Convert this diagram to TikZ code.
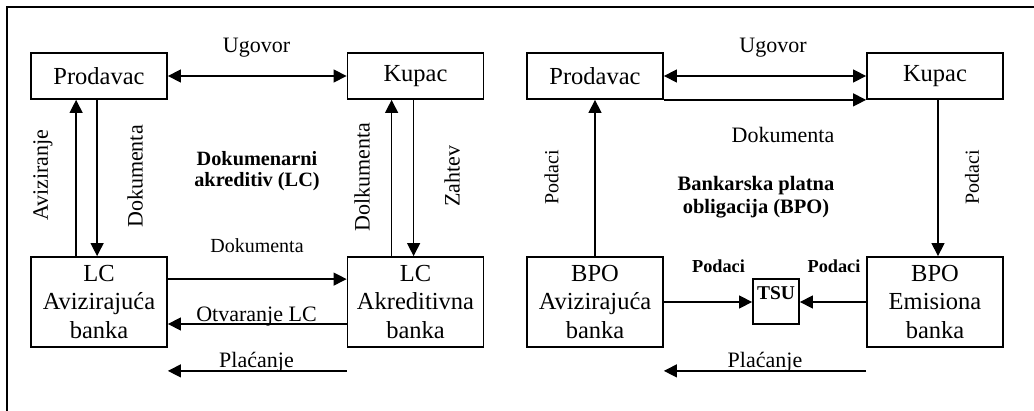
\documentclass[tikz,border=0pt]{standalone}
\usepackage{fontspec}
\setmainfont{Liberation Serif}
\usetikzlibrary{arrows.meta,calc}
\begin{document}
\begin{tikzpicture}[x=1pt,y=-1pt,
  box/.style={draw,line width=1.8pt,inner sep=0pt,align=center,
    font=\fontsize{24.5}{28.5}\selectfont},
  smallbox/.style={box,minimum width=136pt,minimum height=46pt},
  bankbox/.style={box,minimum width=136pt,minimum height=90pt},
  tsubox/.style={draw,line width=1.8pt,inner sep=0pt,minimum width=46pt,minimum height=45pt,
    text height=13.5pt,text depth=18pt,font=\fontsize{19.5}{22}\selectfont\bfseries},
  tip/.tip={Triangle[length=13pt,width=13pt]},
  arr/.style={line width=1.3pt,-tip},
  darr/.style={line width=1.3pt,tip-tip},
  lbl/.style={inner sep=0pt,font=\fontsize{22}{26}\selectfont},
  mlbl/.style={inner sep=0pt,font=\fontsize{20}{24}\selectfont},
  vlbl/.style={inner sep=0pt,rotate=90,font=\fontsize{22}{26}\selectfont},
  vlbls/.style={inner sep=0pt,rotate=90,font=\fontsize{20}{24}\selectfont},
  ttl/.style={inner sep=0pt,align=center,font=\fontsize{20.3}{21.5}\selectfont\bfseries},
  blbl/.style={inner sep=0pt,font=\fontsize{18.3}{22}\selectfont\bfseries}
]
\useasboundingbox (0,0) rectangle (1034,411);
\begin{scope}
\clip (0,0) rectangle (1034,411);
\draw[line width=1.7pt] (7,430) -- (7,7) -- (1050,7);
\end{scope}

% ---------- left diagram: LC ----------
\node[smallbox] (prodA) at (99,76) {Prodavac};
\node[smallbox] (kupA) at (415.5,76) {Kupac};
\node[bankbox] (lcA) at (99,302) {LC\\Avizirajuća\\banka};
\node[bankbox] (lcK) at (415.5,302) {LC\\Akreditivna\\banka};

\draw[darr] (prodA.east) -- (kupA.west);
\draw[arr] ([xshift=46pt]lcA.north west) -- ([xshift=46pt]prodA.south west);
\draw[arr] ([xshift=67pt]prodA.south west) -- ([xshift=67pt]lcA.north west);
\draw[arr] ([xshift=45pt]lcK.north west) -- ([xshift=45pt]kupA.south west);
\draw[arr] ([xshift=67pt]kupA.south west) -- ([xshift=67pt]lcK.north west);
\draw[arr] ([yshift=-23pt]lcA.north east) -- ([yshift=-23pt]lcK.north west);
\draw[arr] ([yshift=-22pt]lcK.west) -- ([yshift=-22pt]lcA.east);
\draw[arr] ([yshift=-23pt]lcK.south west) -- ([yshift=-23pt]lcA.south east);

\node[lbl,anchor=base] (ugA) at (256.5,53) {Ugovor};
\node[mlbl,anchor=base] (dokA) at (257,253) {Dokumenta};
\node[lbl,anchor=base] (otvA) at (256.5,322) {Otvaranje LC};
\node[lbl,anchor=base] (plA) at (256.5,368) {Plaćanje};
\node[vlbl] (avA) at (43,175) {Aviziranje};
\node[vlbl] (dkA) at (135,176.5) {Dokumenta};
\node[vlbl] (dlA) at (362,177) {Dolkumenta};
\node[vlbl] (zaA) at (452,176) {Zahtev};
\node[ttl] (ttlA) at (257,171) {Dokumenarni\\akreditiv (LC)};

% ---------- right diagram: BPO ----------
\node[smallbox] (prodB) at (595,76) {Prodavac};
\node[smallbox] (kupB) at (935,76) {Kupac};
\node[bankbox] (bpoA) at (595,302) {BPO\\Avizirajuća\\banka};
\node[bankbox] (bpoE) at (935,302) {BPO\\Emisiona\\banka};
\node[tsubox] (tsu) at (776,301.5) {TSU};

\draw[darr] (prodB.east) -- (kupB.west);
\draw[arr] (prodB.south east) -- (kupB.south west);
\draw[arr] (bpoA.north) -- (prodB.south);
\draw[arr] ([xshift=3pt]kupB.south) -- ([xshift=3pt]bpoE.north);
\draw[arr] (bpoA.east) -- (bpoA.east -| tsu.west);
\draw[arr] (bpoE.west) -- (bpoE.west -| tsu.east);
\draw[arr] ([yshift=-23pt]bpoE.south west) -- ([yshift=-23pt]bpoA.south east);

\node[lbl,anchor=base] (ugB) at (773,53) {Ugovor};
\node[lbl,anchor=base] (dokB) at (783,143) {Dokumenta};
\node[vlbls] (podL) at (551.5,177.5) {Podaci};
\node[vlbls] (podR) at (972,177.5) {Podaci};
\node[ttl,font=\fontsize{20.5}{23}\selectfont\bfseries] (ttlB) at (756,197) {Bankarska platna\\obligacija (BPO)};
\node[blbl,anchor=base] (pdL) at (718.5,273) {Podaci};
\node[blbl,anchor=base] (pdR) at (834,273) {Podaci};
\node[lbl,anchor=base] (plB) at (765,368) {Plaćanje};
\end{tikzpicture}
\end{document}
